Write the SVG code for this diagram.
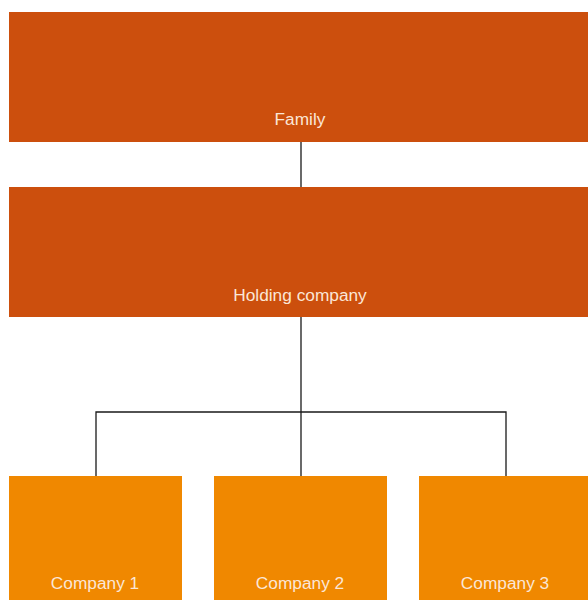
<svg xmlns="http://www.w3.org/2000/svg" width="588" height="600" viewBox="0 0 588 600">
<style>
.dark{fill:#cc4f0d}
.light{fill:#f08800}
.lbl{font-family:"Liberation Sans",Arial,sans-serif;font-size:17.3px;fill:#fbe6d6;text-anchor:middle}
.conn{stroke:#1a1a1a;stroke-width:1.3;fill:none}
</style>
<rect width="588" height="600" fill="#ffffff"/>
<g id="connectors">
<line class="conn" x1="301" y1="142" x2="301" y2="187"/>
<line class="conn" x1="301" y1="317" x2="301" y2="476"/>
<polyline class="conn" points="96,476 96,412 506,412 506,476"/>
</g>
<g id="family"><rect class="dark" x="9" y="12" width="579" height="130"/><text class="lbl" x="300" y="125">Family</text></g>
<g id="holding"><rect class="dark" x="9" y="187" width="579" height="130"/><text class="lbl" x="300" y="301">Holding company</text></g>
<g id="company1"><rect class="light" x="9" y="476" width="173" height="124"/><text class="lbl" x="95" y="589">Company 1</text></g>
<g id="company2"><rect class="light" x="214" y="476" width="173" height="124"/><text class="lbl" x="300" y="589">Company 2</text></g>
<g id="company3"><rect class="light" x="419" y="476" width="169" height="124"/><text class="lbl" x="505" y="589">Company 3</text></g>
</svg>
